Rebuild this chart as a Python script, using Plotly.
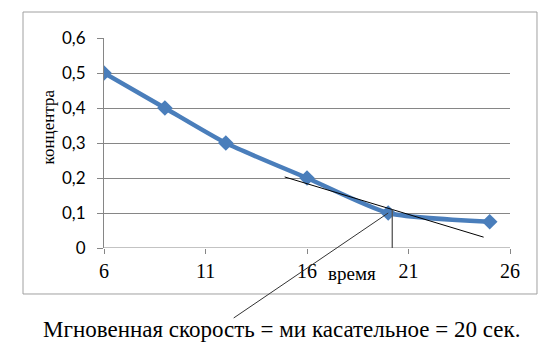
import plotly.graph_objects as go

time = [6, 9, 12, 16, 20, 25]
conc = [0.5, 0.4, 0.3, 0.2, 0.1, 0.075]

tangent_x = [14.9, 24.7]
tangent_y = [0.203, 0.031]
vert_x = [20.2, 20.2]
vert_y = [0.11, 0.0]

x_ticks = [6, 11, 16, 21, 26]
x_ticktext = ["6", "11", "16", "21", "26"]
y_ticks = [0, 0.1, 0.2, 0.3, 0.4, 0.5, 0.6]
y_ticktext = ["0", "0,1", "0,2", "0,3", "0,4", "0,5", "0,6"]

caption = "Мгновенная скорость = ми касательное = 20 сек."

fig = go.Figure()
fig.add_trace(go.Scatter(x=time, y=conc, mode="lines+markers",
                         line=dict(color="#4a7ebb", width=4.5, shape="spline", smoothing=0.6),
                         marker=dict(symbol="diamond", size=12, color="#4a7ebb"),
                         showlegend=False))
fig.add_trace(go.Scatter(x=tangent_x, y=tangent_y, mode="lines",
                         line=dict(color="black", width=1), showlegend=False))
fig.add_trace(go.Scatter(x=vert_x, y=vert_y, mode="lines",
                         line=dict(color="#555555", width=1.3), showlegend=False))

fig.add_annotation(x=time[4], y=conc[4], xref="x", yref="y", text="",
                   showarrow=True, arrowhead=0, arrowwidth=1, arrowcolor="#333333",
                   ax=-156, ay=106)

fig.add_annotation(x=0.611, y=-0.12, xref="paper", yref="paper", text="время",
                   xanchor="center", yanchor="middle", showarrow=False,
                   font=dict(family="Liberation Serif", size=19, color="black"))
fig.add_annotation(x=-0.137, y=0.576, xref="paper", yref="paper", text="концентра",
                   xanchor="center", yanchor="middle", textangle=-90, showarrow=False,
                   font=dict(family="Liberation Serif", size=17, color="black"))
fig.add_annotation(x=0.436, y=-0.39, xref="paper", yref="paper", text=caption,
                   xanchor="center", yanchor="middle", showarrow=False,
                   font=dict(family="Liberation Serif", size=23, color="black"))

fig.add_shape(type="rect", xref="paper", yref="paper", x0=-0.1995, x1=1.0665,
              y0=-0.219, y1=1.1238, line=dict(color="#a0a0a0", width=1), layer="below")

fig.update_xaxes(range=[6, 26], tickvals=x_ticks, ticktext=x_ticktext,
                 showgrid=False, zeroline=False, showline=False,
                 ticks="outside", ticklen=5, tickcolor="#868686",
                 tickfont=dict(family="Liberation Serif", size=20, color="black"))
fig.update_yaxes(range=[0, 0.6], tickvals=y_ticks, ticktext=y_ticktext,
                 showgrid=True, gridcolor="#868686", gridwidth=1, zeroline=False,
                 showline=True, linecolor="#868686", linewidth=1,
                 ticks="outside", ticklen=6, tickcolor="#868686", ticklabelstandoff=8,
                 tickfont=dict(family="Lato", size=17, color="black"))

fig.add_shape(type="line", xref="paper", yref="y", x0=0, x1=1, y0=0, y1=0,
              line=dict(color="#868686", width=1), layer="below")

fig.update_layout(width=559, height=349, margin=dict(l=104, r=49, t=38, b=101),
                  plot_bgcolor="white", paper_bgcolor="white")

fig.write_html("out.html", config={"displayModeBar": False},
               post_script="document.body.style.margin='0';")
